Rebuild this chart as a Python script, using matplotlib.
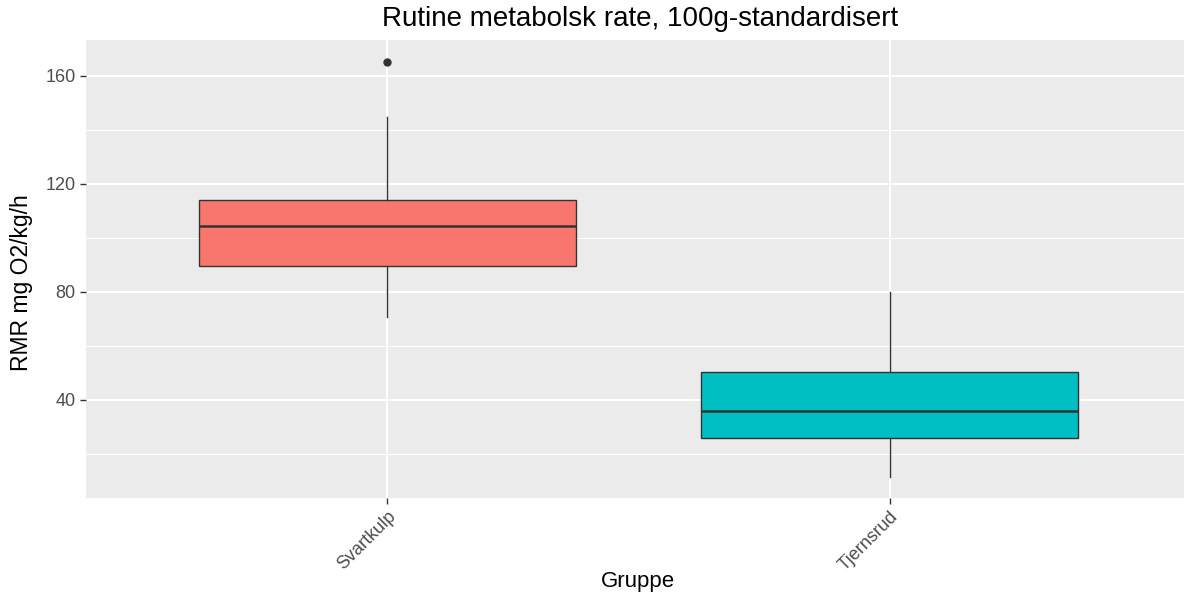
import matplotlib
matplotlib.use('Agg')
import matplotlib.pyplot as plt

# Box statistics
groups = ['Svartkulp', 'Tjernsrud']
q1 = [89.6, 25.9]
medians = [104.4, 35.9]
q3 = [114.1, 50.4]
whisker_low = [70.7, 11.5]
whisker_high = [144.8, 80.0]
outliers = [[165.2], []]
colors = ['#F8766D', '#00BFC4']

plt.rcParams['font.family'] = ['Liberation Sans', 'DejaVu Sans']

fig = plt.figure(figsize=(11.84, 5.96), dpi=100)
ax = fig.add_axes([86 / 1184, 98 / 596, 1 - 86 / 1184, (498 - 40) / 596])
ax.set_facecolor('#EBEBEB')

stats = []
for i, g in enumerate(groups):
    stats.append({'label': g, 'q1': q1[i], 'med': medians[i], 'q3': q3[i],
                  'whislo': whisker_low[i], 'whishi': whisker_high[i],
                  'fliers': outliers[i]})

bp = ax.bxp(stats, positions=[1, 2], widths=0.75, patch_artist=True,
            showcaps=False,
            boxprops=dict(edgecolor='#333333', linewidth=1.0),
            medianprops=dict(color='#333333', linewidth=1.8),
            whiskerprops=dict(color='#333333', linewidth=1.0),
            flierprops=dict(marker='o', markerfacecolor='#333333',
                            markeredgecolor='#333333', markersize=5))
for patch, c in zip(bp['boxes'], colors):
    patch.set_facecolor(c)
for b in bp['boxes'] + bp['whiskers'] + bp['medians'] + bp['fliers']:
    b.set_zorder(3)

ax.set_xlim(0.4, 2.586)
ax.set_ylim(3.7, 173.3)
ax.set_yticks([40, 80, 120, 160])
ax.set_yticks([20, 60, 100, 140], minor=True)
ax.set_xticks([1, 2])
ax.set_xticklabels(groups, rotation=45, ha='right', va='top',
                   rotation_mode='anchor')

ax.grid(True, which='major', color='white', linewidth=1.4, zorder=0)
ax.grid(True, which='minor', axis='y', color='white', linewidth=0.7, zorder=0)
ax.set_axisbelow(True)
for s in ax.spines.values():
    s.set_visible(False)

ax.tick_params(axis='both', which='major', colors='#333333', length=4,
               width=1.0, labelsize=13, labelcolor='#4D4D4D')
ax.tick_params(axis='y', which='minor', length=0)
ax.tick_params(axis='x', pad=3)

# axis titles and main title placed where the reference has them
fig.text(638 / 1184, 1 - 582 / 596, 'Gruppe', ha='center', va='center',
         fontsize=16)
fig.text(22 / 1184, 1 - 283 / 596, 'RMR mg O2/kg/h', ha='center',
         va='center', rotation=90, fontsize=16.5)
fig.text(640 / 1184, 1 - 19 / 596, 'Rutine metabolsk rate, 100g-standardisert',
         ha='center', va='center', fontsize=20)

fig.savefig('out.png', dpi=100)
